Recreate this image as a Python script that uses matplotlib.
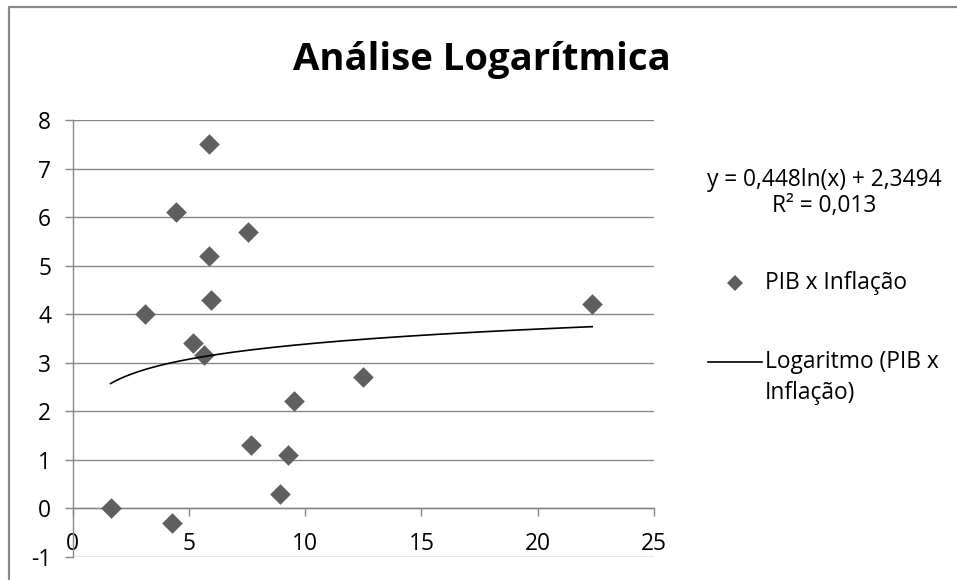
# Scatter PIB x Inflação with a logarithmic trendline, Excel look
import numpy as np
import matplotlib
matplotlib.use('Agg')
from matplotlib import pyplot as plt
from matplotlib.lines import Line2D

plt.rcParams['font.family'] = ['Open Sans', 'DejaVu Sans']
plt.rcParams['axes.unicode_minus'] = False

# data
pib = [1.63, 4.28, 3.12, 4.44, 5.87, 5.87, 5.93, 7.55, 5.17, 5.65, 7.65, 9.27, 8.91, 9.51, 12.49, 22.34]
inflacao = [0.0, -0.3, 4.0, 6.1, 7.5, 5.2, 4.3, 5.7, 3.4, 3.15, 1.3, 1.1, 0.3, 2.2, 2.7, 4.2]

# trendline coefficients (as printed on the chart)
coef_a = 0.448
coef_b = 2.3494
r2 = 0.013

x_ticks = [0, 5, 10, 15, 20, 25]
y_ticks = [-1, 0, 1, 2, 3, 4, 5, 6, 7, 8]

grey = '#878787'
mark_col = '#5f5f5f'
fs = 16.4

fig = plt.figure(figsize=(9.57, 5.80), dpi=100)
ax = fig.add_axes([72.7 / 957, 23.3 / 580, (654 - 72.7) / 957, (556.7 - 120) / 580])

ax.set_xlim(0, 25)
ax.set_ylim(-1, 8)
ax.set_xticks(x_ticks)
ax.set_yticks(y_ticks)

# horizontal gridlines only
for yv in y_ticks:
    ax.axhline(yv, color=grey, lw=1.0, zorder=1)

ax.spines['top'].set_visible(False)
ax.spines['right'].set_visible(False)
ax.spines['left'].set_color(grey)
ax.spines['left'].set_linewidth(1.0)
ax.spines['bottom'].set_position(('data', 0))
ax.spines['bottom'].set_color(grey)
ax.spines['bottom'].set_linewidth(1.0)

ax.tick_params(axis='y', direction='out', length=5.5, width=1, color=grey,
               labelsize=fs, pad=10)
ax.tick_params(axis='x', direction='out', length=5.5, width=1, color=grey,
               labelsize=fs, pad=12)

ax.scatter(pib, inflacao, marker='D', s=10.5 ** 2, color=mark_col, zorder=3,
           linewidths=0)

# logarithmic trendline over the data range
xs = np.linspace(min(pib), max(pib), 200)
ax.plot(xs, coef_a * np.log(xs) + coef_b, color='black', lw=1.2, zorder=4)

fig.text(482, 580 - 60, 'Análise Logarítmica', fontsize=27.5, fontweight='bold',
         ha='center', va='center', transform=None)

# trendline label and legend
eq = 'y = ' + f'{coef_a}ln(x) + {coef_b}'.replace('.', ',')
fig.text(824, 580 - 180, eq, fontsize=fs, ha='center', va='center', transform=None)
fig.text(824, 580 - 206, 'R² = ' + f'{r2}'.replace('.', ','), fontsize=fs,
         ha='center', va='center', transform=None)

fig.add_artist(Line2D([735], [580 - 283], marker='D', markersize=8.5, color=mark_col,
                      markeredgewidth=0, transform=None))
fig.text(765, 580 - 283, 'PIB x Inflação', fontsize=fs, ha='left', va='center',
         transform=None)
fig.add_artist(Line2D([708, 762], [580 - 362, 580 - 362], color='black', lw=1.2,
                      transform=None))
fig.text(765, 580 - 362, 'Logaritmo (PIB x', fontsize=fs, ha='left', va='center',
         transform=None)
fig.text(765, 580 - 393, 'Inflação)', fontsize=fs, ha='left', va='center',
         transform=None)

# chart area border (only top and left visible)
fig.add_artist(Line2D([9, 9, 957], [0, 580 - 7, 580 - 7], color=grey, lw=1.6,
                      transform=None))

fig.savefig('out.png', dpi=100)
